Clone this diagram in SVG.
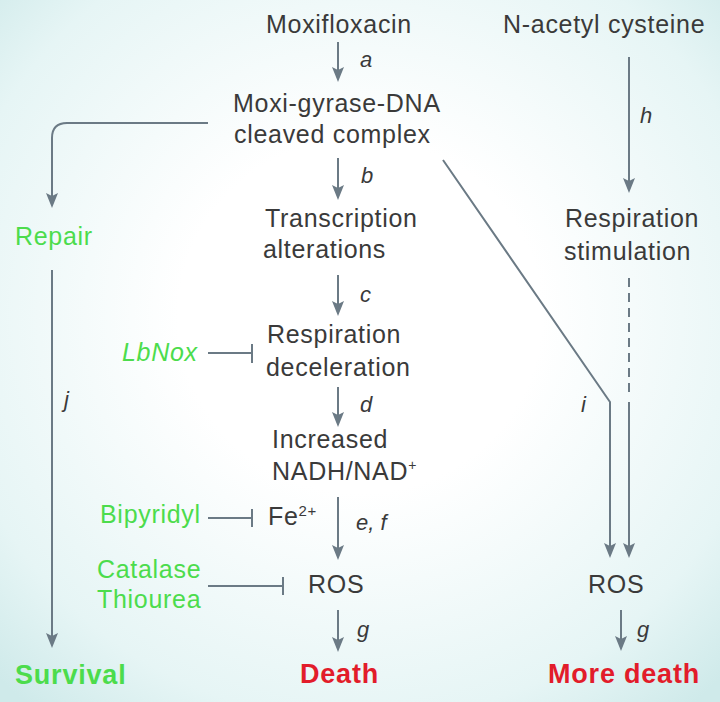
<svg xmlns="http://www.w3.org/2000/svg" width="720" height="702" viewBox="0 0 720 702">
<defs>
<radialGradient id="bg" cx="50%" cy="45%" r="72%">
<stop offset="0.35" stop-color="#ffffff"/>
<stop offset="0.8" stop-color="#e6f5f5"/>
<stop offset="1" stop-color="#cfeaea"/>
</radialGradient>
<marker id="ah" markerUnits="userSpaceOnUse" markerWidth="16" markerHeight="12" viewBox="0 0 16 12" refX="7" refY="6" orient="auto">
<path d="M0,0 L15,6 L0,12 L3,6 Z" fill="#6b7a85"/>
</marker>
<style>
.t{font-family:"Liberation Sans",Arial,sans-serif;font-size:25px;letter-spacing:0.7px;fill:#3a3a3a}
.l{font-family:"Liberation Sans",Arial,sans-serif;font-size:22px;font-style:italic;fill:#3a3a3a}
.g{font-family:"Liberation Sans",Arial,sans-serif;font-size:25px;letter-spacing:0.7px;fill:#4cdc4c}
.gb{font-family:"Liberation Sans",Arial,sans-serif;font-size:27px;font-weight:bold;letter-spacing:0.8px;fill:#4cdc4c}
.rb{font-family:"Liberation Sans",Arial,sans-serif;font-size:27px;font-weight:bold;letter-spacing:0.8px;fill:#e21c2a}
.c{stroke:#6b7a85;stroke-width:2;fill:none}
.a{marker-end:url(#ah)}
</style>
</defs>
<rect width="720" height="702" fill="url(#bg)"/>

<g id="connectors">
<line class="c a" x1="338" y1="42" x2="338" y2="74"/>
<line class="c a" x1="338" y1="158" x2="338" y2="192"/>
<line class="c a" x1="338" y1="275" x2="338" y2="308"/>
<line class="c a" x1="338" y1="387" x2="338" y2="419"/>
<line class="c a" x1="338" y1="497" x2="338" y2="552"/>
<line class="c a" x1="338" y1="610" x2="338" y2="644"/>
<line class="c a" x1="621" y1="610" x2="621" y2="643"/>
<line class="c a" x1="629" y1="57" x2="629" y2="185"/>
<path class="c a" d="M208,123 H67 Q52,123 52,138 V200"/>
<line class="c a" x1="52" y1="270" x2="52" y2="640"/>
<path class="c a" d="M443,160 L610,402 V550"/>
<line class="c" x1="629" y1="278" x2="629" y2="395" stroke-dasharray="9,6"/>
<line class="c a" x1="629" y1="402" x2="629" y2="550"/>
<path class="c" d="M208,353 H252 M252,344 V363"/>
<path class="c" d="M208,518 H252 M252,509 V527"/>
<path class="c" d="M208,586 H283 M283,577 V595"/>
</g>

<g id="labels">
<text class="l" x="360" y="67">a</text>
<text class="l" x="361" y="183">b</text>
<text class="l" x="360" y="302">c</text>
<text class="l" x="360" y="412">d</text>
<text class="l" x="356" y="530">e, f</text>
<text class="l" x="357" y="637">g</text>
<text class="l" x="640" y="123">h</text>
<text class="l" x="581" y="412">i</text>
<text class="l" x="64" y="407">j</text>
<text class="l" x="637" y="637">g</text>
</g>

<g id="moxifloxacin"><text class="t" x="266" y="33">Moxifloxacin</text></g>
<g id="complex"><text class="t" x="233" y="112">Moxi-gyrase-DNA</text><text class="t" x="234" y="143">cleaved complex</text></g>
<g id="transcription"><text class="t" x="265" y="227">Transcription</text><text class="t" x="263" y="258">alterations</text></g>
<g id="resp-decel"><text class="t" x="267" y="343">Respiration</text><text class="t" x="266" y="376">deceleration</text></g>
<g id="nadh"><text class="t" x="272" y="448">Increased</text><text class="t" x="272" y="480">NADH/NAD<tspan font-size="14" dy="-10">+</tspan></text></g>
<g id="fe"><text class="t" x="268" y="525">Fe<tspan font-size="15" dy="-9">2+</tspan></text></g>
<g id="ros"><text class="t" x="308" y="593">ROS</text></g>
<g id="death"><text class="rb" x="300" y="683">Death</text></g>
<g id="nac"><text class="t" x="503" y="33">N-acetyl cysteine</text></g>
<g id="resp-stim"><text class="t" x="565" y="227">Respiration</text><text class="t" x="564" y="260">stimulation</text></g>
<g id="ros2"><text class="t" x="588" y="593">ROS</text></g>
<g id="more-death"><text class="rb" x="548" y="683">More death</text></g>
<g id="repair"><text class="g" x="15" y="245">Repair</text></g>
<g id="survival"><text class="gb" x="15" y="684">Survival</text></g>
<g id="lbnox"><text class="g" x="122" y="361" font-style="italic">LbNox</text></g>
<g id="bipyridyl"><text class="g" x="100" y="523">Bipyridyl</text></g>
<g id="catalase"><text class="g" x="97" y="578">Catalase</text><text class="g" x="97" y="608">Thiourea</text></g>
</svg>
